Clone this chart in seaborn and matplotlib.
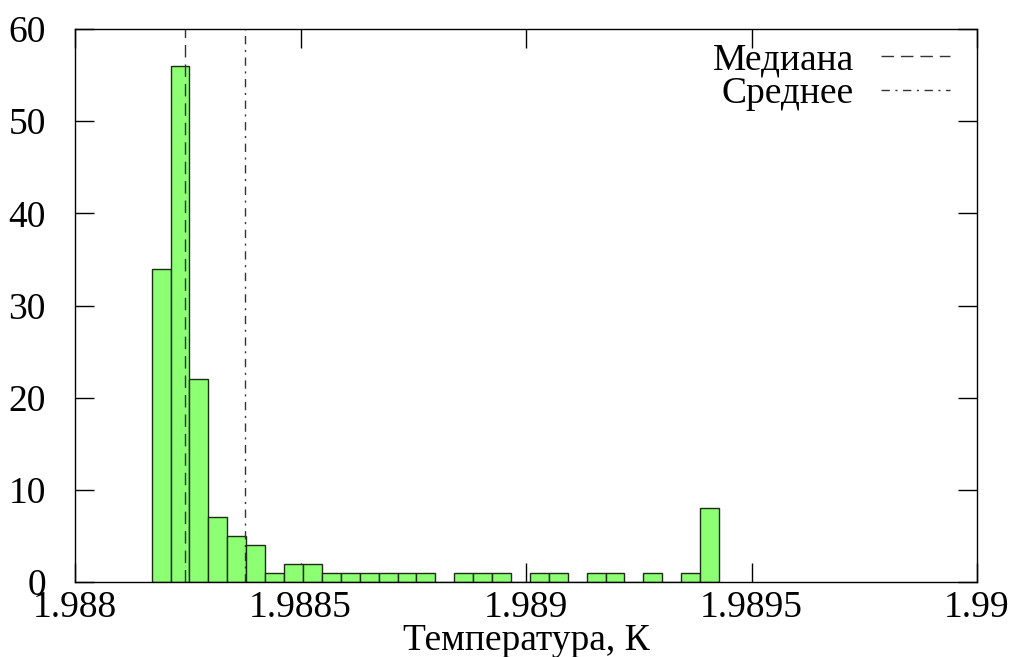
import numpy as np
import pandas as pd
import matplotlib
matplotlib.use("Agg")
import matplotlib.pyplot as plt
import seaborn as sns

# Histogram of measured temperatures: fixed-width bins
bin_start = 1.98817
bin_width = 4.193e-5
counts = [34, 56, 22, 7, 5, 4, 1, 2, 2, 1, 1, 1, 1, 1, 1, 0, 1, 1, 1, 0,
          1, 1, 0, 1, 1, 0, 1, 0, 1, 8]
median_T = 1.988244
mean_T = 1.988376

x_ticks = [1.988, 1.9885, 1.989, 1.9895, 1.99]
x_tick_labels = ["1.988", "1.9885", "1.989", "1.9895", "1.99"]
y_ticks = [0, 10, 20, 30, 40, 50, 60]

edges = [bin_start + bin_width * i for i in range(len(counts) + 1)]
centers = [(a + b) / 2 for a, b in zip(edges[:-1], edges[1:])]
df = pd.DataFrame({"T": centers, "n": counts})

sns.set_style("ticks")
plt.rcParams["font.family"] = ["Liberation Serif", "DejaVu Serif"]
for key in ("text.color", "axes.labelcolor", "xtick.color", "ytick.color",
            "axes.edgecolor"):
    plt.rcParams[key] = "black"

FS = 27

fig = plt.figure(figsize=(10.11, 6.57), dpi=100)
ax = fig.add_axes([75 / 1011, 75 / 657, 902 / 1011, 553 / 657])

sns.histplot(data=df, x="T", weights="n", bins=edges, ax=ax,
             color="#8cff73", edgecolor="#1c2c16", linewidth=1.0, alpha=1.0)

ax.axvline(median_T, color="#333333", lw=1.0, ls=(0, (9, 5)), label="Медиана")
ax.axvline(mean_T, color="#333333", lw=1.0, ls=(0, (6, 4, 1.5, 4)), label="Среднее")

ax.set_xlim(1.988, 1.99)
ax.set_ylim(0, 60)
ax.set_xticks(x_ticks)
ax.set_xticklabels(x_tick_labels)
ax.set_yticks(y_ticks)
ax.set_ylabel("")
ax.set_xlabel("Температура, К", fontsize=FS)
ax.xaxis.label.set_va("baseline")
ax.xaxis.set_label_coords(0.5, -0.123)

for s in ax.spines.values():
    s.set_visible(True)
    s.set_color("black")
    s.set_linewidth(1.0)

ax.tick_params(axis="both", which="major", direction="in", length=14, width=1.0,
               top=True, right=True, labelsize=FS, color="black",
               labelcolor="black")
ax.tick_params(axis="y", pad=21)
ax.tick_params(axis="x", pad=6)

leg = ax.legend(loc="upper right", bbox_to_anchor=(1 - 27 / 902, 1 - 14 / 553),
                frameon=False, markerfirst=False, fontsize=FS,
                handlelength=1.85, handletextpad=0.72,
                labelspacing=-0.02, borderaxespad=0.0, borderpad=0.0)

fig.savefig("out.png", dpi=100)
